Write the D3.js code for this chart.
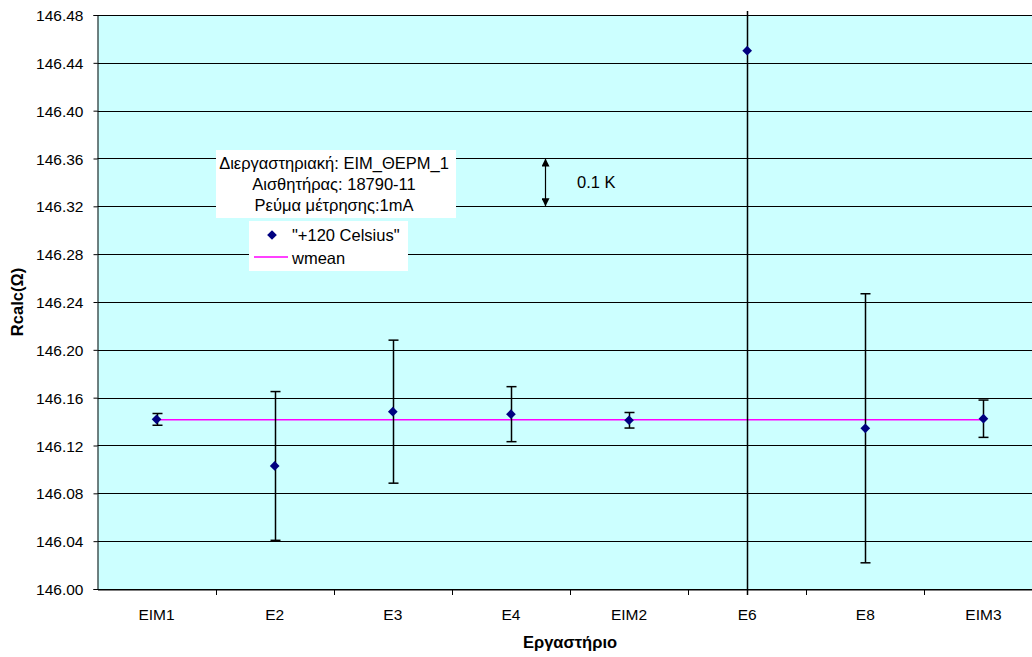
<!DOCTYPE html>
<html><head><meta charset="utf-8">
<script src="https://cdn.jsdelivr.net/npm/d3@7"></script>
<style>body{margin:0;background:#fff;overflow:hidden}svg{display:block}text{font-family:Arial,"Liberation Sans",sans-serif}</style>
</head><body><svg id="c" width="1032" height="657"></svg>
<script>
const categories = ["EIM1","E2","E3","E4","EIM2","E6","E8","EIM3"];
const values = [146.1419,146.1029,146.1483,146.1462,146.1411,146.4502,146.1344,146.1424];
const errors = [0.0049,0.0622,0.0598,0.0230,0.0065,0.5,0.1125,0.0156];
const wmean = 146.1416;
const yTicks = [146.00,146.04,146.08,146.12,146.16,146.20,146.24,146.28,146.32,146.36,146.40,146.44,146.48];
const seriesName = "\"+120 Celsius\"";
const meanName = "wmean";
const infoLines = ["Διεργαστηριακή: EIM_ΘΕΡΜ_1","Αισθητήρας: 18790-11","Ρεύμα μέτρησης:1mA"];
const arrowLabel = "0.1 K";
const arrowRange = [146.32, 146.36];
const yTitle = "Rcalc(Ω)";
const xTitle = "Εργαστήριο";

const svg = d3.select("#c");
const L = 97.5, T = 15, B = 589, W = 945;
const x = d3.scaleBand().domain(categories).range([L, L+W]);
const y = d3.scaleLinear().domain([146.00,146.48]).range([B, T]);
const cx = d => x(d) + x.bandwidth()/2;

svg.append("rect").attr("x",L).attr("y",T).attr("width",W).attr("height",B-T).attr("fill","#CCFFFF");

// gridlines
svg.append("g").selectAll("line").data(yTicks).join("line")
  .attr("x1",L).attr("x2",L+W).attr("y1",d=>Math.round(y(d))+0.5).attr("y2",d=>Math.round(y(d))+0.5)
  .attr("stroke","#000").attr("stroke-width",1);

// y axis
const ya = svg.append("g").attr("transform",`translate(${L},0)`)
  .call(d3.axisLeft(y).tickValues(yTicks).tickFormat(d3.format(".2f")).tickSize(4).tickPadding(10));
ya.select(".domain").attr("stroke","#000");
ya.selectAll("text").attr("font-size",15.5).attr("fill","#000").attr("dy","0.36em");

// x axis
const xa = svg.append("g").attr("transform",`translate(0,${B+0.5})`)
  .call(d3.axisBottom(x).tickSize(0).tickPadding(0));
xa.select(".domain").attr("stroke","#000");
xa.selectAll("text").attr("font-size",15.5).attr("fill","#000").attr("dy",0).attr("y",30);
svg.append("g").selectAll("line").data(categories).join("line")
  .attr("x1",d=>Math.round(x(d)+x.bandwidth())+0.5)
  .attr("x2",d=>Math.round(x(d)+x.bandwidth())+0.5)
  .attr("y1",B).attr("y2",B+6).attr("stroke","#000");

// clip for error bars
svg.append("clipPath").attr("id","eb").append("rect").attr("x",L).attr("y",T-4).attr("width",W).attr("height",B-T+10);

// wmean line
svg.append("line").attr("x1",cx(categories[0])).attr("x2",cx(categories[categories.length-1]))
  .attr("y1",y(wmean)).attr("y2",y(wmean)).attr("stroke","#FF00FF").attr("stroke-width",1.5);

// error bars
const eg = svg.append("g").attr("clip-path","url(#eb)");
categories.forEach((c,i)=>{
  const xc = Math.round(cx(c))+0.5;
  const y1 = y(values[i]+errors[i]), y2 = y(values[i]-errors[i]);
  eg.append("line").attr("x1",xc).attr("x2",xc).attr("y1",y1).attr("y2",y2).attr("stroke","#000").attr("stroke-width",1.5);
  [y1,y2].forEach(yy=>eg.append("line").attr("x1",xc-5).attr("x2",xc+5).attr("y1",yy).attr("y2",yy).attr("stroke","#000").attr("stroke-width",1.5));
});

// markers
const diamond = d3.symbol().type(d3.symbolDiamond2).size(60);
svg.append("g").selectAll("path").data(categories).join("path")
  .attr("d",diamond).attr("transform",(d,i)=>`translate(${cx(d)},${y(values[i])})`).attr("fill","#000080");

// plot top border
svg.append("line").attr("x1",L).attr("x2",L+W).attr("y1",T+0.5).attr("y2",T+0.5).attr("stroke","#000");

// info box
svg.append("rect").attr("x",216).attr("y",150).attr("width",240).attr("height",68).attr("fill","#fff");
infoLines.forEach((t,i)=>svg.append("text").attr("x",334).attr("y",169+i*21).attr("text-anchor","middle").attr("font-size",16.5).text(t));

// legend
svg.append("rect").attr("x",249).attr("y",221).attr("width",159).attr("height",50).attr("fill","#fff");
svg.append("path").attr("d",diamond).attr("transform","translate(272,235)").attr("fill","#000080");
svg.append("text").attr("x",292).attr("y",241).attr("font-size",16.5).text(seriesName);
svg.append("line").attr("x1",254).attr("x2",288).attr("y1",257).attr("y2",257).attr("stroke","#FF00FF").attr("stroke-width",1.5);
svg.append("text").attr("x",292).attr("y",264).attr("font-size",16.5).text(meanName);

// arrow annotation
const ax = 545.5;
const defs = svg.append("defs");
defs.append("marker").attr("id","ah").attr("viewBox","0 0 10 10").attr("refX",10).attr("refY",5)
  .attr("markerWidth",8).attr("markerHeight",8).attr("markerUnits","userSpaceOnUse").attr("orient","auto")
  .append("path").attr("d","M0,0L10,5L0,10Z").attr("fill","#000");
defs.append("marker").attr("id","ah2").attr("viewBox","0 0 10 10").attr("refX",0).attr("refY",5)
  .attr("markerWidth",8).attr("markerHeight",8).attr("markerUnits","userSpaceOnUse").attr("orient","auto")
  .append("path").attr("d","M10,0L0,5L10,10Z").attr("fill","#000");
svg.append("line").attr("x1",ax).attr("x2",ax).attr("y1",y(arrowRange[0])).attr("y2",y(arrowRange[1]))
  .attr("stroke","#000").attr("stroke-width",1.2).attr("marker-end","url(#ah)").attr("marker-start","url(#ah2)");
svg.append("text").attr("x",577).attr("y",188).attr("font-size",16.5).text(arrowLabel);

// titles
svg.append("text").attr("transform",`translate(23,${(T+B)/2}) rotate(-90)`).attr("text-anchor","middle")
  .attr("font-size",16.5).attr("font-weight","bold").text(yTitle);
svg.append("text").attr("x",L+W/2).attr("y",648).attr("text-anchor","middle")
  .attr("font-size",16.5).attr("font-weight","bold").text(xTitle);
</script></body></html>
